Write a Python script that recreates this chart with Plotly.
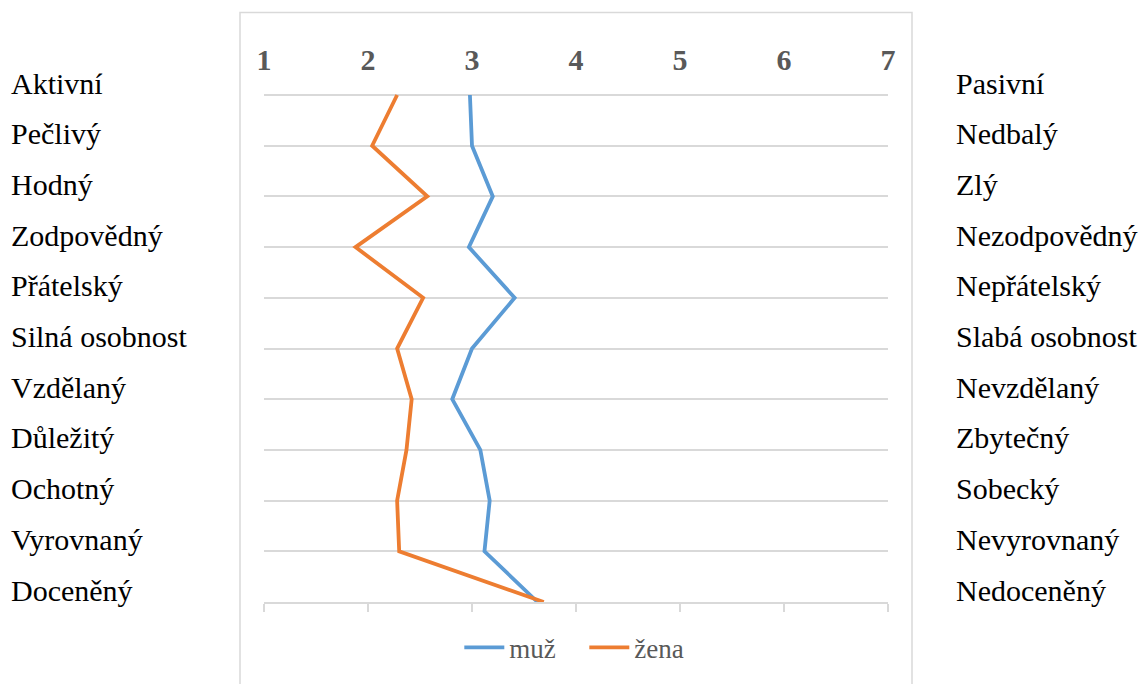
import plotly.graph_objects as go

left_labels = ["Aktivní", "Pečlivý", "Hodný", "Zodpovědný", "Přátelský", "Silná osobnost",
               "Vzdělaný", "Důležitý", "Ochotný", "Vyrovnaný", "Doceněný"]
right_labels = ["Pasivní", "Nedbalý", "Zlý", "Nezodpovědný", "Nepřátelský", "Slabá osobnost",
                "Nevzdělaný", "Zbytečný", "Sobecký", "Nevyrovnaný", "Nedoceněný"]
muz = [2.98, 3.00, 3.20, 2.97, 3.41, 3.00, 2.81, 3.08, 3.17, 3.12, 3.63]
zena = [2.28, 2.04, 2.57, 1.88, 2.53, 2.28, 2.42, 2.37, 2.28, 2.30, 3.69]
scale_ticks = [1, 2, 3, 4, 5, 6, 7]
series_names = ["muž", "žena"]

BLUE = "#5B9BD5"
ORANGE = "#ED7D31"
GRID = "#D9D9D9"
FONT = "Liberation Serif"

fig = go.Figure()
fig.add_trace(go.Scatter(x=muz, y=left_labels, mode="lines", name=series_names[0],
                         line=dict(color=BLUE, width=3.8), xaxis="x", yaxis="y"))
fig.add_trace(go.Scatter(x=zena, y=left_labels, mode="lines", name=series_names[1],
                         line=dict(color=ORANGE, width=3.8), xaxis="x2", yaxis="y"))

for lab in left_labels:
    fig.add_annotation(x=-0.4085, xref="paper", y=lab, yref="y", text=lab, showarrow=False,
                       xanchor="left", yanchor="middle", yshift=12,
                       font=dict(family=FONT, size=30, color="#000000"))
for lab_l, lab_r in zip(left_labels, right_labels):
    fig.add_annotation(x=1.105, xref="paper", y=lab_l, yref="y", text=lab_r, showarrow=False,
                       xanchor="left", yanchor="middle", yshift=12,
                       font=dict(family=FONT, size=30, color="#000000"))

# outer chart-area border
fig.add_shape(type="rect", xref="paper", yref="paper", x0=-0.03846, x1=1.03846,
              y0=-0.25, y1=1.1582, line=dict(color=GRID, width=1.5), layer="below")

fig.update_layout(
    width=1144, height=684,
    margin=dict(l=264, r=256, t=93, b=79),
    paper_bgcolor="white", plot_bgcolor="white",
    font=dict(family=FONT),
    showlegend=True,
    legend=dict(orientation="h", x=0.313, xanchor="left", y=-0.09, yanchor="middle",
                font=dict(family=FONT, size=27, color="#595959"),
                bgcolor="rgba(0,0,0,0)", itemwidth=40,
                entrywidth=70, entrywidthmode="pixels"),
    xaxis=dict(range=[1, 7], tickvals=scale_ticks, showticklabels=False, showgrid=False,
               zeroline=False, showline=True, linecolor=GRID, linewidth=2,
               ticks="outside", ticklen=8, tickwidth=1.5, tickcolor=GRID, side="bottom"),
    xaxis2=dict(range=[1, 7], overlaying="x", side="top", tickvals=scale_ticks,
                ticktext=[str(t) for t in scale_ticks], showgrid=False, zeroline=False,
                showline=False, ticks="", ticklabelstandoff=16,
                tickfont=dict(family=FONT, size=30, color="#595959", weight="bold")),
    yaxis=dict(type="category", categoryorder="array", categoryarray=left_labels,
               range=[10, -0.04], showticklabels=False, showgrid=True, gridcolor=GRID,
               gridwidth=2, zeroline=False, showline=False, ticks=""),
)

fig.write_html("out.html")
